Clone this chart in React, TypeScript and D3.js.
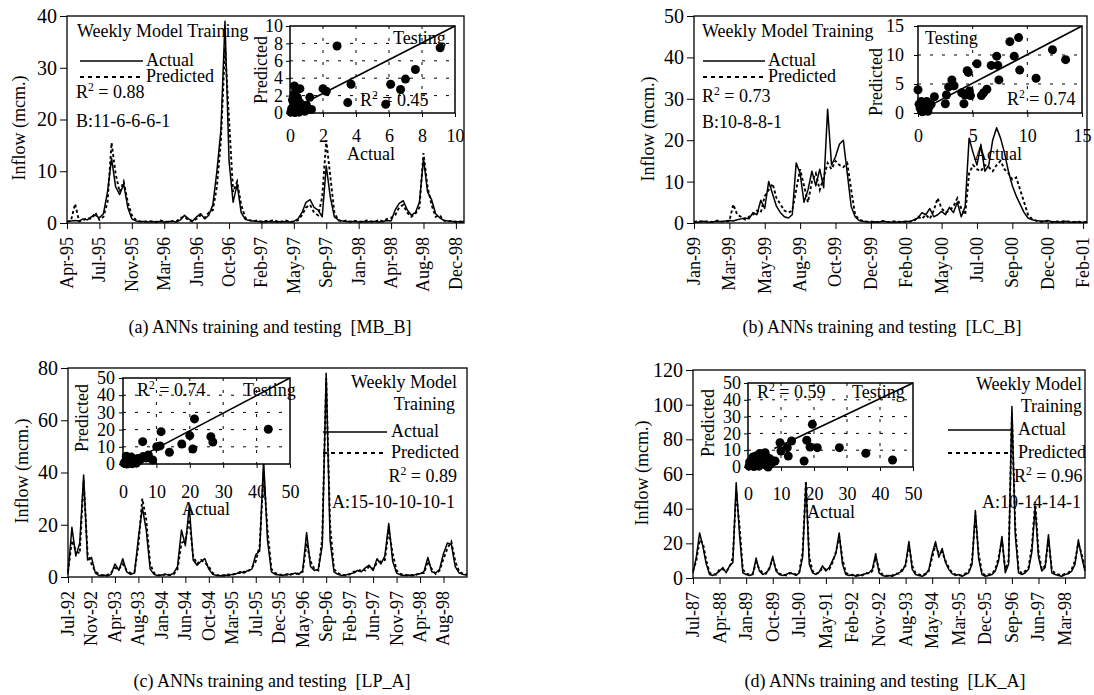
import React, { useEffect, useRef } from 'react'
import * as d3 from 'd3'

const FONT = "'Liberation Serif', 'Times New Roman', serif"

// ---- panel (a) MB_B ----
const aLabels = ['Apr-95', 'Jul-95', 'Nov-95', 'Mar-96', 'Jun-96', 'Oct-96', 'Feb-97', 'May-97', 'Sep-97', 'Jan-98', 'Apr-98', 'Aug-98', 'Dec-98']
const aActual = [
  0.3, 0.4, 0.5, 0.4, 0.8, 0.6, 1.2, 1.5, 1.0, 1.8,
  6.0, 12.5, 7.0, 5.5, 7.5, 3.0, 0.8, 0.4, 0.3, 0.3,
  0.2, 0.3, 0.2, 0.3, 0.2, 0.3, 0.3, 0.2, 0.6, 1.5,
  0.8, 0.4, 1.2, 1.8, 0.8, 1.5, 3.5, 10.0, 18.0, 39.0,
  12.0, 4.0, 7.5, 2.0, 0.7, 0.5, 0.4, 0.3, 0.3, 0.2,
  0.3, 0.2, 0.3, 0.2, 0.3, 0.2, 0.3, 0.8, 2.0, 4.0,
  4.5, 3.0, 2.5, 1.2, 11.0, 5.0, 1.2, 0.6, 0.4, 0.3,
  0.3, 0.3, 0.2, 0.3, 0.2, 0.3, 0.3, 0.2, 0.3, 0.5,
  0.4, 2.5, 3.8, 4.3, 2.5, 1.5, 2.0, 4.0, 12.5, 6.0,
  4.5, 1.8, 1.0, 0.5, 0.4, 0.3, 0.3, 0.2, 0.3,
]
const aPredicted = [
  0.2, 0.5, 3.7, 0.3, 0.5, 1.0, 0.8, 2.0, 0.6, 1.2,
  4.0, 15.5, 9.5, 6.0, 8.0, 4.0, 1.5, 0.6, 0.3, 0.2,
  0.4, 0.3, 0.2, 0.5, 0.3, 0.2, 0.4, 0.3, 1.0, 1.2,
  0.5, 0.3, 0.8, 1.5, 1.0, 2.0, 2.5, 7.0, 16.0, 34.0,
  20.0, 6.0, 8.0, 3.5, 1.0, 0.6, 0.3, 0.5, 0.2, 0.4,
  0.3, 0.6, 0.2, 0.3, 0.5, 0.2, 0.3, 0.5, 1.5, 3.0,
  3.5, 2.0, 1.5, 5.0, 16.0, 9.0, 2.0, 0.5, 0.3, 0.5,
  0.2, 0.4, 0.3, 0.2, 0.5, 0.3, 0.2, 0.6, 0.3, 0.8,
  1.0, 1.5, 3.0, 3.5, 2.0, 1.2, 1.8, 3.0, 13.5, 7.0,
  3.5, 1.2, 1.5, 0.5, 0.3, 0.4, 0.2, 0.3, 0.2,
]
const aTestActual = [0.1, 0.2, 0.3, 0.15, 0.25, 0.35, 0.4, 0.5, 0.6, 0.7, 0.8, 0.9, 0.45, 0.05, 0.26, 0.6, 1.2, 1.3, 2.0, 2.2, 2.85, 3.5, 3.7, 5.8, 6.1, 6.7, 7.0, 7.6, 9.1, 1.0, 0.55, 0.3]
const aTestPredicted = [0.5, 0.2, 1.0, 1.5, 2.2, 0.3, 0.8, 0.5, 1.2, 0.3, 0.6, 0.2, 1.8, 0.1, 3.1, 2.8, 1.8, 0.4, 2.8, 2.5, 7.7, 1.2, 3.3, 1.0, 3.3, 2.7, 3.9, 5.0, 7.5, 0.9, 0.1, 0.05]

// ---- panel (b) LC_B ----
const bLabels = ['Jan-99', 'Mar-99', 'May-99', 'Aug-99', 'Oct-99', 'Dec-99', 'Feb-00', 'May-00', 'Jul-00', 'Sep-00', 'Dec-00', 'Feb-01']
const bActual = [
  0.3, 0.2, 0.4, 0.3, 0.2, 0.3, 0.4, 0.3, 0.5, 0.6,
  0.5, 0.8, 1.0, 1.2, 1.0, 2.5, 2.0, 5.5, 3.5, 10.0,
  7.0, 4.0, 2.5, 1.5, 1.2, 2.0, 14.5, 12.0, 5.0, 8.0,
  12.5, 9.0, 13.0, 8.5, 27.5, 14.0, 16.0, 19.0, 20.0, 12.0,
  4.0, 1.5, 0.6, 0.4, 0.3, 0.2, 0.3, 0.2, 0.4, 0.3,
  0.2, 0.3, 0.2, 0.3, 0.4, 0.3, 0.8, 1.2, 2.5, 2.0,
  3.5, 1.5, 2.0, 2.8, 2.0, 3.8, 2.5, 5.0, 1.5, 4.0,
  20.5, 17.0, 14.0, 19.0, 12.5, 14.0, 20.0, 23.0, 20.5, 17.0,
  12.5, 9.0, 6.5, 4.5, 2.5, 1.2, 0.8, 0.6, 0.5, 0.4,
  0.6, 0.3, 0.3, 0.2, 0.5, 0.3, 0.2, 0.3, 0.2, 0.2, 0.3,
]
const bPredicted = [
  0.2, 0.5, 0.3, 0.4, 0.3, 0.2, 0.6, 0.4, 0.3, 0.5,
  4.5, 2.0, 1.5, 0.8, 1.5, 2.0, 3.0, 2.5, 6.5, 8.0,
  9.5, 6.0, 4.5, 3.0, 2.5, 3.0, 8.0, 13.0, 9.0, 5.0,
  10.0, 12.0, 8.0, 11.0, 14.5, 13.0, 15.0, 14.0, 13.5, 14.5,
  8.0, 2.0, 0.8, 0.5, 0.3, 0.4, 0.2, 0.3, 0.5, 0.2,
  0.3, 0.4, 0.3, 0.2, 0.3, 0.4, 0.5, 1.5, 1.0, 2.0,
  1.0, 3.0, 6.0, 3.5, 2.5, 3.0, 4.0, 6.0, 3.5, 2.0,
  12.0, 14.0, 13.0, 12.5, 14.0, 13.5, 12.5, 14.0, 15.0, 13.0,
  12.0, 10.5, 11.0, 8.0, 5.0, 2.0, 1.0, 0.6, 0.3, 0.3,
  0.5, 0.2, 0.4, 0.3, 0.2, 0.4, 0.3, 0.2, 0.3, 0.2, 0.3,
]
const bTestActual = [0, 0.1, 0.2, 0.3, 0.5, 0.6, 0.8, 1.0, 0.4, 0.7, 1.2, 0.9, 1.5, 2.5, 2.6, 2.8, 3.1, 3.3, 4.0, 4.2, 4.3, 4.5, 4.6, 4.7, 4.8, 5.4, 5.8, 6.0, 6.3, 6.7, 7.2, 7.3, 7.4, 8.4, 8.8, 9.2, 9.3, 10.8, 12.3, 13.5]
const bTestPredicted = [4.0, 1.5, 0.8, 2.0, 0.5, 1.2, 2.0, 1.0, 0.2, 0.6, 1.5, 0.3, 2.8, 1.6, 3.1, 4.5, 5.7, 4.7, 3.5, 1.6, 3.1, 7.3, 7.0, 3.8, 3.0, 8.5, 3.0, 3.5, 4.1, 8.2, 9.8, 8.2, 5.7, 12.3, 9.8, 13.0, 7.4, 6.0, 10.9, 9.2]

// ---- panel (c) LP_A ----
const cLabels = ['Jul-92', 'Nov-92', 'Apr-93', 'Aug-93', 'Jan-94', 'Jun-94', 'Oct-94', 'Mar-95', 'Jul-95', 'Dec-95', 'May-96', 'Sep-96', 'Feb-97', 'Jun-97', 'Nov-97', 'Apr-98', 'Aug-98']
const cActual = [
  1.0, 19.0, 8.0, 13.0, 39.0, 6.5, 7.5, 1.5, 0.5, 0.8,
  0.4, 1.0, 5.0, 2.5, 7.0, 2.0, 1.0, 1.5, 15.0, 26.5,
  18.0, 3.0, 1.0, 0.5, 0.8, 1.0, 0.6, 1.5, 4.0, 18.0,
  12.0, 27.0, 6.5, 4.5, 6.0, 7.0, 3.0, 1.0, 0.6, 0.5,
  0.8, 0.6, 1.0, 1.2, 2.0, 1.5, 2.5, 3.0, 8.5, 10.0,
  45.0, 14.0, 2.0, 1.0, 0.8, 0.6, 1.2, 0.8, 1.5, 1.0,
  2.5, 17.0, 4.0, 2.5, 3.0, 12.0, 78.0, 14.0, 2.0, 1.0,
  0.6, 0.8, 1.2, 1.5, 2.5, 2.0, 3.5, 4.5, 2.5, 7.0,
  5.0, 8.0, 20.5, 6.0, 1.5, 0.8, 0.6, 0.8, 0.5, 1.0,
  1.2, 2.0, 7.5, 2.0, 1.5, 3.0, 9.0, 13.0, 12.5, 4.0,
  1.5, 1.0, 0.8,
]
const cPredicted = [
  2.0, 14.0, 10.0, 9.0, 37.0, 9.0, 5.0, 2.0, 1.0, 0.5,
  0.8, 1.5, 3.5, 3.0, 5.0, 2.5, 1.5, 2.0, 12.0, 30.0,
  22.0, 5.0, 1.5, 0.8, 0.5, 1.2, 0.8, 1.0, 3.0, 13.0,
  14.0, 22.0, 8.0, 5.0, 6.5, 5.5, 4.0, 1.5, 0.8, 0.6,
  0.5, 1.0, 0.8, 1.5, 1.5, 2.0, 2.0, 3.5, 6.0, 12.0,
  40.0, 18.0, 3.0, 1.5, 1.0, 0.8, 0.8, 1.2, 1.0, 1.5,
  2.0, 13.0, 6.0, 3.0, 2.5, 15.0, 76.0, 20.0, 3.0, 1.5,
  0.8, 0.6, 1.0, 2.0, 2.0, 3.0, 2.5, 4.0, 3.0, 5.5,
  6.0, 6.5, 18.0, 9.0, 2.5, 1.2, 0.8, 0.6, 0.8, 0.8,
  1.5, 1.5, 6.0, 3.0, 1.2, 2.5, 7.0, 11.0, 13.5, 6.0,
  2.0, 1.2, 1.0,
]
const cTestActual = [0.3, 0.8, 1.0, 1.5, 2.0, 2.5, 3.0, 3.5, 4.0, 4.5, 1.2, 2.8, 5.0, 5.9, 6.0, 7.0, 7.6, 8.9, 10.1, 11.1, 11.4, 13.9, 17.6, 20.0, 20.9, 21.4, 26.3, 26.9, 43.5]
const cTestPredicted = [0.5, 2.0, 4.5, 0.3, 2.2, 4.0, 1.5, 2.8, 0.5, 3.2, 0.0, 0.2, 2.0, 13.0, 4.3, 3.5, 5.2, 2.3, 10.0, 10.5, 18.8, 6.8, 11.6, 16.5, 8.7, 26.2, 15.9, 12.8, 20.2]

// ---- panel (d) LK_A ----
const dLabels = ['Jul-87', 'Apr-88', 'Jan-89', 'Oct-89', 'Jul-90', 'May-91', 'Feb-92', 'Nov-92', 'Aug-93', 'May-94', 'Mar-95', 'Dec-95', 'Sep-96', 'Jun-97', 'Mar-98']
const dActual = [
  3, 12, 26, 18, 8, 2, 1.5, 2.5, 4, 6,
  3, 7, 9, 55, 25, 3, 2, 1.5, 2, 11.5,
  4, 2, 3, 5, 12.5, 4, 2, 1.5, 2, 3,
  2.5, 1.5, 3, 12, 55, 8, 3, 2, 3.5, 7,
  4, 6, 10, 14, 26, 8, 2, 1.5, 2, 1,
  1.5, 2, 2.5, 3, 5, 14, 3, 1.5, 1, 1.5,
  1, 2, 3, 4, 8, 21, 5, 2, 1.5, 1,
  2, 5, 14, 21, 12, 17, 9, 5, 2.5, 1.5,
  2, 1, 2, 3, 8, 39, 11, 2, 1, 1.5,
  2, 4, 10, 24, 3, 8, 99, 25, 3, 2,
  3, 5, 15, 41, 12, 4, 6, 25, 3, 2,
  1.5, 1, 2, 2.5, 4, 8, 22, 12, 4,
]
const dPredicted = [
  4, 10, 22, 20, 10, 3, 2, 2, 5, 5,
  4, 6, 12, 50, 30, 5, 2.5, 2, 2.5, 9,
  5, 3, 2.5, 6, 11, 5, 2.5, 2, 1.5, 2.5,
  3, 2, 3.5, 15, 56, 12, 4, 2.5, 3, 6,
  5, 5, 9, 15, 24, 11, 3, 2, 1.5, 1.5,
  2, 1.5, 3, 2.5, 4, 12, 5, 2, 1.5, 1,
  1.5, 2.5, 2.5, 5, 7, 19, 7, 3, 2, 1.5,
  2.5, 4, 12, 19, 14, 15, 10, 6, 3, 2,
  1.5, 1.5, 2.5, 3.5, 10, 36, 14, 3, 1.5, 2,
  2.5, 5, 12, 22, 5, 10, 95, 30, 5, 2.5,
  4, 6, 18, 44, 15, 5, 7, 22, 5, 2.5,
  2, 1.5, 2.5, 3, 5, 10, 20, 14, 5,
]
const dTestActual = [0.3, 0.8, 1.0, 1.3, 1.8, 2.0, 2.4, 2.8, 3.0, 3.3, 3.8, 4.0, 4.5, 4.8, 5.2, 5.5, 6.1, 6.0, 6.7, 7.0, 8.2, 9.7, 10.0, 11.9, 12.2, 13.2, 17.0, 17.8, 18.8, 19.5, 21.0, 27.7, 35.7, 43.8, 1.5, 3.5, 0.5]
const dTestPredicted = [0.5, 2.5, 1.0, 4.0, 0.3, 3.5, 6.5, 1.5, 3.0, 0.5, 5.0, 2.0, 7.5, 3.8, 8.5, 1.0, 0.0, 5.5, 4.8, 2.0, 3.6, 14.5, 9.5, 11.5, 6.5, 15.5, 3.6, 15.9, 11.9, 25.4, 11.5, 11.5, 8.2, 4.2, 6.0, 8.0, 3.0]

const panels = [
  {
    labels: aLabels, actual: aActual, predicted: aPredicted, testX: aTestActual, testY: aTestPredicted,
    left: 67, right: 464, top: 16, bottom: 223, yMax: 40, yStep: 10, tickEvery: 8, yLabel: [19, 128],
    caption: '(a) ANNs training and testing  [MB_B]', captionPos: [270, 333],
    head: [{ t: 'Weekly Model Training', x: 77, y: 37, a: 'start' }],
    legend: { x1: 80, x2: 143, yA: 61, yP: 77, lx: 146 },
    r2: { v: '0.88', x: 76, y: 98, a: 'start' }, arch: { t: 'B:11-6-6-6-1', x: 76, y: 127, a: 'start' },
    inset: { left: 290, right: 455, top: 26, bottom: 113, max: 10, step: 2, fit: [[0.3, 0.6], [10, 10]], xPad: 12, yPad: 3,
      pred: [261, 70], act: [371, 160], testing: [393, 44], r2: { v: '0.45', x: 360, y: 106 } },
  },
  {
    labels: bLabels, actual: bActual, predicted: bPredicted, testX: bTestActual, testY: bTestPredicted,
    left: 694, right: 1087, top: 16, bottom: 223, yMax: 50, yStep: 10, tickEvery: 9, yLabel: [648, 129],
    caption: '(b) ANNs training and testing  [LC_B]', captionPos: [882, 333],
    head: [{ t: 'Weekly Model Training', x: 702, y: 37, a: 'start' }],
    legend: { x1: 703, x2: 765, yA: 61, yP: 77, lx: 768 },
    r2: { v: '0.73', x: 702, y: 102, a: 'start' }, arch: { t: 'B:10-8-8-1', x: 702, y: 128, a: 'start' },
    inset: { left: 918, right: 1082, top: 26, bottom: 113, max: 15, step: 5, fit: [[0.6, 0.8], [15, 15]], xPad: 12, yPad: 10,
      pred: [876, 82], act: [998, 160], testing: [925, 44], r2: { v: '0.74', x: 1007, y: 105 } },
  },
  {
    labels: cLabels, actual: cActual, predicted: cPredicted, testX: cTestActual, testY: cTestPredicted,
    left: 68, right: 467, top: 368, bottom: 577, yMax: 80, yStep: 20, tickEvery: 6, yLabel: [22, 471],
    caption: '(c) ANNs training and testing  [LP_A]', captionPos: [272, 687],
    head: [{ t: 'Weekly Model', x: 457, y: 388, a: 'end' }, { t: 'Training', x: 455, y: 410, a: 'end' }],
    legend: { x1: 323, x2: 387, yA: 432, yP: 453, lx: 391 },
    r2: { v: '0.89', x: 457, y: 482, a: 'end' }, arch: { t: 'A:15-10-10-10-1', x: 455, y: 508, a: 'end' },
    inset: { left: 123, right: 290, top: 378, bottom: 464, max: 50, step: 10, fit: [[4, 3], [50, 50]], xPad: 17, yPad: 4,
      pred: [82, 418], act: [206, 515], testing: [243, 396], r2: { v: '0.74', x: 137, y: 396 } },
  },
  {
    labels: dLabels, actual: dActual, predicted: dPredicted, testX: dTestActual, testY: dTestPredicted,
    left: 693, right: 1085, top: 370, bottom: 578, yMax: 120, yStep: 20, tickEvery: 8, yLabel: [642, 473],
    caption: '(d) ANNs training and testing  [LK_A]', captionPos: [885, 687],
    head: [{ t: 'Weekly Model', x: 1082, y: 390, a: 'end' }, { t: 'Training', x: 1082, y: 412, a: 'end' }],
    legend: { x1: 948, x2: 1013, yA: 430, yP: 453, lx: 1018 },
    r2: { v: '0.96', x: 1014, y: 482, a: 'start' }, arch: { t: 'A:10-14-14-1', x: 982, y: 508, a: 'start' },
    inset: { left: 748, right: 913, top: 383, bottom: 467, max: 50, step: 10, fit: [[8, 11], [50, 50]], xPad: 16, yPad: 3,
      pred: [708, 423], act: [831, 518], testing: [852, 398], r2: { v: '0.59', x: 757, y: 398 } },
  },
]

// R² label with a raised 2
const r2Text = (g, v, x, y, anchor, size) => {
  const t = g.append('text').attr('x', x).attr('y', y).attr('text-anchor', anchor)
    .attr('font-size', size).attr('font-family', FONT)
  t.append('tspan').text('R')
  t.append('tspan').attr('dy', -7).attr('font-size', size * 0.65).text('2')
  t.append('tspan').attr('dy', 7).text(' = ' + v)
}

const drawPanel = (svg, p) => {
  const g = svg.append('g')
  const n = p.actual.length
  const x = d3.scaleLinear().domain([0, n - 1]).range([p.left, p.right])
  const y = d3.scaleLinear().domain([0, p.yMax]).range([p.bottom, p.top])

  g.append('rect')
    .attr('x', p.left).attr('y', p.top)
    .attr('width', p.right - p.left).attr('height', p.bottom - p.top)
    .attr('fill', '#fff').attr('stroke', '#000').attr('stroke-width', 1.3)

  const ya = g.append('g').attr('transform', `translate(${p.left},0)`)
    .call(d3.axisLeft(y).tickValues(d3.range(0, p.yMax + 1, p.yStep)).tickSize(7).tickPadding(3))
  ya.attr('font-family', FONT).attr('font-size', 20)
  ya.select('.domain').remove()

  const ticks = p.labels.map((_, i) => i * p.tickEvery)
  const xa = g.append('g').attr('transform', `translate(0,${p.bottom})`)
    .call(d3.axisBottom(x).tickValues(ticks).tickFormat(() => '').tickSize(6))
  xa.select('.domain').remove()

  g.selectAll('text.xl').data(p.labels).join('text')
    .attr('class', 'xl')
    .attr('transform', (d, i) => `translate(${x(ticks[i])},${p.bottom + 14}) rotate(-90)`)
    .attr('text-anchor', 'end').attr('dy', '0.33em')
    .attr('font-family', FONT).attr('font-size', 18)
    .text(d => d)

  g.append('text')
    .attr('transform', `translate(${p.yLabel[0]},${p.yLabel[1]}) rotate(-90)`)
    .attr('text-anchor', 'middle').attr('dy', '0.35em')
    .attr('font-family', FONT).attr('font-size', 18)
    .text('Inflow (mcm.)')

  const path = d3.line().x((d, i) => x(i)).y(d => y(d))
  g.append('path').datum(p.actual).attr('d', path)
    .attr('fill', 'none').attr('stroke', '#000').attr('stroke-width', 1.5).attr('stroke-linejoin', 'round')
  g.append('path').datum(p.predicted).attr('d', path)
    .attr('fill', 'none').attr('stroke', '#000').attr('stroke-width', 1.9).attr('stroke-dasharray', '3,2.5')

  // legend + notes
  p.head.forEach(h => {
    g.append('text').attr('x', h.x).attr('y', h.y).attr('text-anchor', h.a)
      .attr('font-family', FONT).attr('font-size', 18).text(h.t)
  })
  const L = p.legend
  g.append('line').attr('x1', L.x1).attr('x2', L.x2).attr('y1', L.yA).attr('y2', L.yA)
    .attr('stroke', '#000').attr('stroke-width', 1.5)
  g.append('line').attr('x1', L.x1).attr('x2', L.x2).attr('y1', L.yP).attr('y2', L.yP)
    .attr('stroke', '#000').attr('stroke-width', 1.8).attr('stroke-dasharray', '4,4')
  g.append('text').attr('x', L.lx).attr('y', L.yA + 5).attr('font-family', FONT).attr('font-size', 18).text('Actual')
  g.append('text').attr('x', L.lx).attr('y', L.yP + 5).attr('font-family', FONT).attr('font-size', 18).text('Predicted')
  r2Text(g, p.r2.v, p.r2.x, p.r2.y, p.r2.a, 18)
  g.append('text').attr('x', p.arch.x).attr('y', p.arch.y).attr('text-anchor', p.arch.a)
    .attr('font-family', FONT).attr('font-size', 18).text(p.arch.t)

  // testing inset
  const s = p.inset
  const ix = d3.scaleLinear().domain([0, s.max]).range([s.left, s.right])
  const iy = d3.scaleLinear().domain([0, s.max]).range([s.bottom, s.top])
  const it = d3.range(0, s.max + 0.001, s.step)
  const ig = g.append('g')
  ig.append('rect').attr('x', s.left).attr('y', s.top)
    .attr('width', s.right - s.left).attr('height', s.bottom - s.top).attr('fill', '#fff')
  const inner = it.slice(1, -1)
  ig.selectAll('line.gh').data(inner).join('line').attr('class', 'gh')
    .attr('x1', s.left).attr('x2', s.right).attr('y1', d => iy(d)).attr('y2', d => iy(d))
    .attr('stroke', '#000').attr('stroke-width', 1).attr('stroke-dasharray', '3,9')
  ig.selectAll('line.gv').data(inner).join('line').attr('class', 'gv')
    .attr('y1', s.top).attr('y2', s.bottom).attr('x1', d => ix(d)).attr('x2', d => ix(d))
    .attr('stroke', '#000').attr('stroke-width', 1).attr('stroke-dasharray', '3,9')

  const iya = ig.append('g').attr('transform', `translate(${s.left},0)`)
    .call(d3.axisLeft(iy).tickValues(it).tickSize(4).tickPadding(s.yPad))
  iya.attr('font-family', FONT).attr('font-size', 18)
  iya.select('.domain').remove()
  const ixa = ig.append('g').attr('transform', `translate(0,${s.bottom})`)
    .call(d3.axisBottom(ix).tickValues(it).tickSize(4).tickPadding(s.xPad))
  ixa.attr('font-family', FONT).attr('font-size', 18)
  ixa.select('.domain').remove()

  ig.selectAll('circle').data(p.testX).join('circle')
    .attr('cx', d => ix(d)).attr('cy', (d, i) => iy(p.testY[i])).attr('r', 4.5).attr('fill', '#000')

  ig.append('line')
    .attr('x1', ix(s.fit[0][0])).attr('y1', iy(s.fit[0][1]))
    .attr('x2', ix(s.fit[1][0])).attr('y2', iy(s.fit[1][1]))
    .attr('stroke', '#000').attr('stroke-width', 1.6)

  ig.append('rect').attr('x', s.left).attr('y', s.top)
    .attr('width', s.right - s.left).attr('height', s.bottom - s.top)
    .attr('fill', 'none').attr('stroke', '#000').attr('stroke-width', 1.5)

  ig.append('text').attr('transform', `translate(${s.pred[0]},${s.pred[1]}) rotate(-90)`)
    .attr('text-anchor', 'middle').attr('dy', '0.35em')
    .attr('font-family', FONT).attr('font-size', 18).text('Predicted')
  ig.append('text').attr('x', s.act[0]).attr('y', s.act[1]).attr('text-anchor', 'middle')
    .attr('font-family', FONT).attr('font-size', 18).text('Actual')
  ig.append('text').attr('x', s.testing[0]).attr('y', s.testing[1])
    .attr('font-family', FONT).attr('font-size', 18).text('Testing')
  r2Text(ig, s.r2.v, s.r2.x, s.r2.y, 'start', 18)

  g.append('text').attr('x', p.captionPos[0]).attr('y', p.captionPos[1]).attr('text-anchor', 'middle')
    .attr('font-family', FONT).attr('font-size', 18).style('white-space', 'pre')
    .text(p.caption)
}

export default function App() {
  const ref = useRef(null)

  useEffect(() => {
    const svg = d3.select(ref.current)
    svg.selectAll('*').remove()
    panels.forEach(p => drawPanel(svg, p))
  }, [])

  return (
    <svg ref={ref} width={1094} height={695}
      style={{ position: 'absolute', left: 0, top: 0, background: '#fff' }} />
  )
}
